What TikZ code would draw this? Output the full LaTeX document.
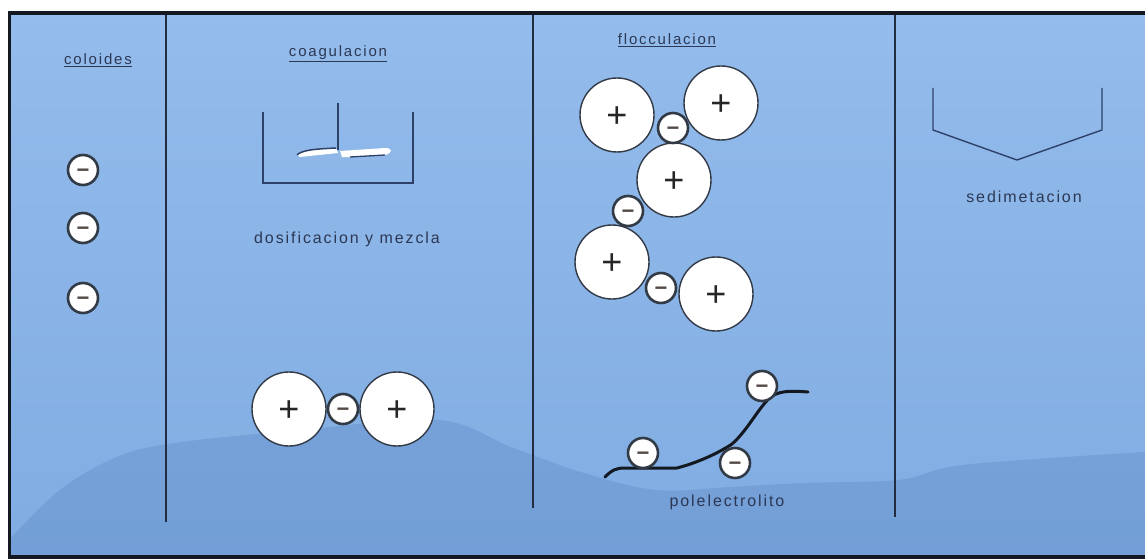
\documentclass[tikz,border=0pt]{standalone}
\usepackage{fontspec}
\setmainfont{Liberation Sans}
\newfontfamily\lblfont{Liberation Sans}[LetterSpace=12]
\usepackage{xcolor}
\usetikzlibrary{positioning}

\definecolor{skytop}{RGB}{148,188,236}
\definecolor{skybot}{RGB}{128,172,226}
\definecolor{hill}{RGB}{100,142,202}
\definecolor{inkblue}{RGB}{44,56,84}
\definecolor{linegray}{RGB}{35,45,65}
\definecolor{tankblue}{RGB}{45,65,105}
\definecolor{ringgray}{RGB}{50,58,70}
\definecolor{minusgray}{RGB}{85,75,70}
\definecolor{framedark}{RGB}{20,24,32}

\begin{document}
\begin{tikzpicture}[x=1pt, y=-1pt,
  every node/.style={font=\lblfont\fontsize{16}{18}\selectfont, text=inkblue},
  title/.style={font=\lblfont\fontsize{15}{17}\selectfont},
  pos ion/.style={circle, draw=ringgray, line width=1.4pt, fill=white, minimum size=74pt, inner sep=0pt, font=\fontsize{36}{36}\selectfont, text=black!85},
  neg ion/.style={circle, draw=ringgray, line width=2.6pt, fill=white, minimum size=30pt, inner sep=0pt, font=\bfseries\fontsize{22}{22}\selectfont, text=minusgray},
  divider/.style={line width=1.3pt, draw=linegray},
  tank/.style={line width=1.4pt, draw=tankblue}
]
\useasboundingbox (0,0) rectangle (1145,559);

% Sky and hills
\fill[top color=skytop, bottom color=skybot] (9,13) rectangle (1145,557);
\fill[hill, fill opacity=0.45] plot[smooth, tension=0.6] coordinates {(9,540) (60,490) (117,457) (175,443) (300,430) (438,420) (511,447) (584,473) (657,490) (730,487) (803,483) (898,480) (949,467) (1022,460) (1145,452)} -- (1145,557) -- (9,557) -- cycle;

% Frame and dividers
\draw[line width=3.5pt, draw=framedark] (1147,13) -- (9.5,13) -- (9.5,557) -- (1147,557);
\draw[divider] (166,15) -- (166,522);
\draw[divider] (533,15) -- (533,508);
\draw[divider] (895,15) -- (895,517);

% Coloides
\node[title] (tcol) at (98,60) {\underline{coloides}};
\node[neg ion] (col1) at (83,170) {\raisebox{-0.33em}[0pt][0pt]{−}};
\node[neg ion] (col2) at (83,228) {\raisebox{-0.33em}[0pt][0pt]{−}};
\node[neg ion] (col3) at (83,298) {\raisebox{-0.33em}[0pt][0pt]{−}};

% Coagulacion: mixing tank
\node[title] (tcoag) at (338,54) {\underline{coagulacion}};
\draw[tank] (263,112) -- (263,183) -- (413,183) -- (413,112);
\draw[tank] (338,103) -- (338,150);
\fill[white] (297,155) .. controls (302,150) and (315,149) .. (336,148) -- (338,153) -- (300,157) -- cycle;
\draw[line width=1.5pt, draw=tankblue] (297,155) .. controls (302,150) and (315,149) .. (336,148);
\fill[white] (340,151) -- (385,148) .. controls (393,148) and (393,153) .. (385,155) -- (350,157) -- (342,157) -- cycle;
\draw[line width=1.3pt, draw=tankblue] (350,157) -- (385,155);
\node (tdos) at (347,239) {dosificacion y mezcla};

% Coagulacion: neutralised pair
\node[pos ion] (cgA) at (289,409) {\raisebox{-0.35em}[0pt][0pt]{+}};
\node[neg ion] (cgm) at (343,409) {\raisebox{-0.33em}[0pt][0pt]{−}};
\node[pos ion] (cgB) at (397,409) {\raisebox{-0.35em}[0pt][0pt]{+}};

% Flocculacion: floc
\node[title] (tfloc) at (667,40) {\underline{flocculacion}};
\node[pos ion] (fl1) at (617,115) {\raisebox{-0.35em}[0pt][0pt]{+}};
\node[pos ion] (fl2) at (721,103) {\raisebox{-0.35em}[0pt][0pt]{+}};
\node[pos ion] (fl3) at (674,180) {\raisebox{-0.35em}[0pt][0pt]{+}};
\node[pos ion] (fl4) at (612,262) {\raisebox{-0.35em}[0pt][0pt]{+}};
\node[pos ion] (fl5) at (716,294) {\raisebox{-0.35em}[0pt][0pt]{+}};
\node[neg ion] (fm1) at (673,128) {\raisebox{-0.33em}[0pt][0pt]{−}};
\node[neg ion] (fm2) at (628,211) {\raisebox{-0.33em}[0pt][0pt]{−}};
\node[neg ion] (fm3) at (661,288) {\raisebox{-0.33em}[0pt][0pt]{−}};

% Flocculacion: polyelectrolyte chain
\draw[line width=3pt, draw=framedark, line cap=round] (605,477) .. controls (612,470) and (616,468) .. (625,468) -- (677,468) .. controls (700,462) and (720,452) .. (732,444) .. controls (748,430) and (760,405) .. (772,396) .. controls (782,390) and (795,391) .. (808,392);
\node[neg ion] (pm1) at (643,453) {\raisebox{-0.33em}[0pt][0pt]{−}};
\node[neg ion] (pm2) at (735,463) {\raisebox{-0.33em}[0pt][0pt]{−}};
\node[neg ion] (pm3) at (762,386) {\raisebox{-0.33em}[0pt][0pt]{−}};
\node (tpoly) at (727,502) {polelectrolito};

% Sedimetacion: settling tank
\draw[tank] (933,88) -- (933,130) -- (1017,160) -- (1102,130) -- (1102,88);
\node (tsed) at (1024,197) {sedimetacion};

\end{tikzpicture}
\end{document}
